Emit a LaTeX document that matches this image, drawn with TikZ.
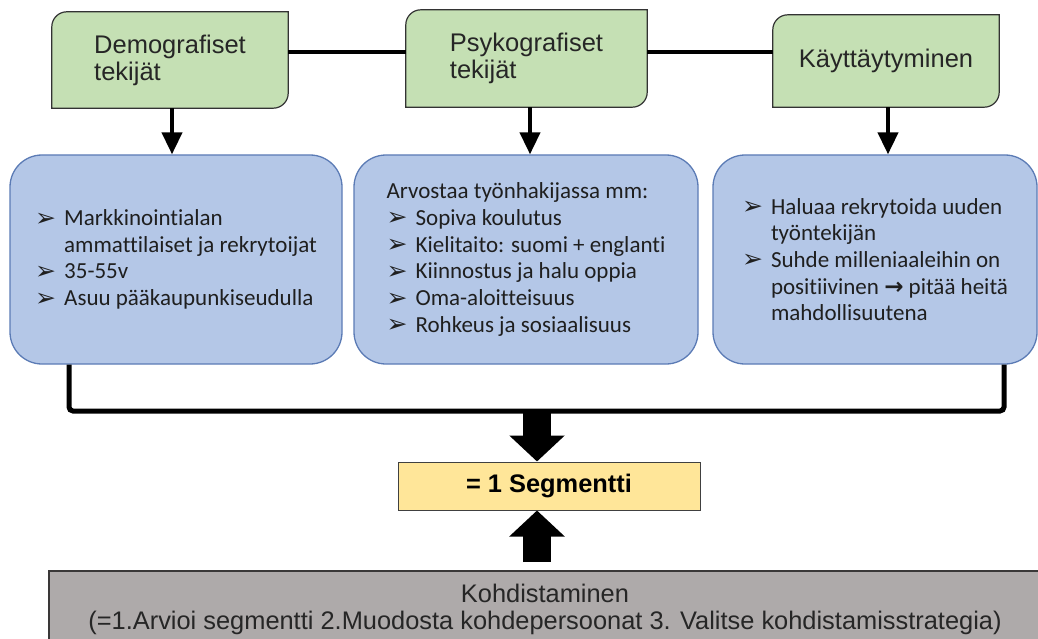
\documentclass[tikz,border=0pt]{standalone}
\usepackage{fontspec}
\setmainfont{Liberation Sans}
\newfontfamily\calfont[Ligatures=NoCommon]{Carlito}
\newfontfamily\dvfont{DejaVu Sans}
\usetikzlibrary{arrows.meta,backgrounds}
\definecolor{gfill}{HTML}{C5E0B4}
\definecolor{bfill}{HTML}{B4C7E7}
\definecolor{bdraw}{HTML}{5B7BB5}
\definecolor{yfill}{HTML}{FFE699}
\definecolor{grayfill}{HTML}{AEAAAA}
\definecolor{graydraw}{HTML}{3A3838}
\newcommand\bl{\makebox[29pt][l]{\raisebox{-0.5pt}{\dvfont\fontsize{25}{25}\selectfont ➢}}}
\newcommand\ind{\hspace*{29pt}}
\newcommand\greenshape[1]{%
  \path[gshape] (#1.south west) -- ([yshift=-15pt]#1.north west)
    arc[start angle=180,end angle=90,radius=15pt] -- (#1.north east)
    -- ([yshift=15pt]#1.south east)
    arc[start angle=0,end angle=-90,radius=15pt] -- cycle;}
\begin{document}
\begin{tikzpicture}[x=1pt,y=1pt,
  gbox/.style={inner sep=0pt, align=left, font=\fontsize{25.5}{27}\selectfont, text=black!85},
  gshape/.style={fill=gfill, draw=black!80, line width=1.2pt},
  bbox/.style={draw=bdraw, fill=bfill, line width=1.3pt, rounded corners=32pt, inner sep=0pt,
    align=left, font=\calfont\fontsize{23}{26.7}\selectfont, text=black!88},
  conn/.style={line width=4.5pt},
  arr/.style={line width=4pt, -{Triangle[length=22pt,width=20pt]}},
  blockarr/.style={line width=28pt, -{Triangle[length=26pt,width=54pt]}},
  bracket/.style={line width=5pt, rounded corners=4pt},
  ybox/.style={draw=black!75, fill=yfill, line width=1pt, font=\bfseries\fontsize{25.4}{28}\selectfont},
  graybox/.style={draw=graydraw, fill=grayfill, line width=1.5pt, align=center, inner sep=0pt,
    font=\fontsize{25.4}{27.5}\selectfont, text=black!85}]
\useasboundingbox (0,0) rectangle (1038,-639);
\clip (0,0) rectangle (1038,-639);

% green header boxes
\node[gbox, minimum width=236pt, minimum height=96pt] (A) at (170,-60) {Demografiset\\tekijät};
\node[gbox, minimum width=241pt, minimum height=97pt] (B) at (526.5,-58.5) {Psykografiset\\tekijät};
\node[gbox, minimum width=226pt, minimum height=92pt] (C) at (886,-61) {Käyttäytyminen};
\begin{scope}[on background layer]
  \greenshape{A}
  \greenshape{B}
  \greenshape{C}
\end{scope}

% blue detail boxes
\node[bbox, minimum width=332pt, minimum height=209pt] (b1) at (176,-259.5)
  {\bl Markkinointialan\\\ind ammattilaiset ja rekrytoijat\\\bl 35-55v\\\bl Asuu pääkaupunkiseudulla};
\node[bbox, minimum width=344pt, minimum height=209pt] (b2) at (526,-259.5)
  {Arvostaa työnhakijassa mm:\\\bl Sopiva koulutus\\\bl Kielitaito: suomi + englanti\\\bl Kiinnostus ja halu oppia\\\bl Oma-aloitteisuus\\\bl Rohkeus ja sosiaalisuus};
\node[bbox, minimum width=324pt, minimum height=209pt] (b3) at (875,-259.5)
  {\bl Haluaa rekrytoida uuden\\\ind työntekijän\\\bl Suhde milleniaaleihin on\\\ind positiivinen {\dvfont\bfseries\fontsize{23}{23}\selectfont →} pitää heitä\\\ind mahdollisuutena};

% segment and targeting
\node[ybox, minimum width=302pt, minimum height=48pt] (seg) at (549,-486) {= 1 Segmentti};
\node[graybox, minimum width=992pt, minimum height=72pt, text depth=0pt] (koh) at (545,-607)
  {Kohdistaminen\\(=1.Arvioi segmentti 2.Muodosta kohdepersoonat 3. Valitse kohdistamisstrategia)};

% connectors between headers
\coordinate (yl) at (0,-52);
\draw[conn] (A.east |- yl) -- (B.west |- yl);
\draw[conn] (B.east |- yl) -- (C.west |- yl);

% arrows from headers to boxes
\draw[arr] ([xshift=2pt]A.south) -- ([xshift=2pt]A.south |- b1.north);
\draw[arr] ([xshift=3.5pt]B.south) -- ([xshift=3.5pt]B.south |- b2.north);
\draw[arr] ([xshift=2pt]C.south) -- ([xshift=2pt]C.south |- b3.north);

% bracket
\coordinate (bl) at (69,-411);
\coordinate (br) at (1004,-411);
\draw[bracket] (b1.south -| bl) -- (bl) -- (br) -- (b3.south -| br);

% block arrows
\coordinate (j) at (537,-411);
\coordinate (k) at (537,-562);
\draw[blockarr] (j) -- (j |- seg.north);
\draw[blockarr] (k) -- (k |- seg.south);
\end{tikzpicture}
\end{document}
